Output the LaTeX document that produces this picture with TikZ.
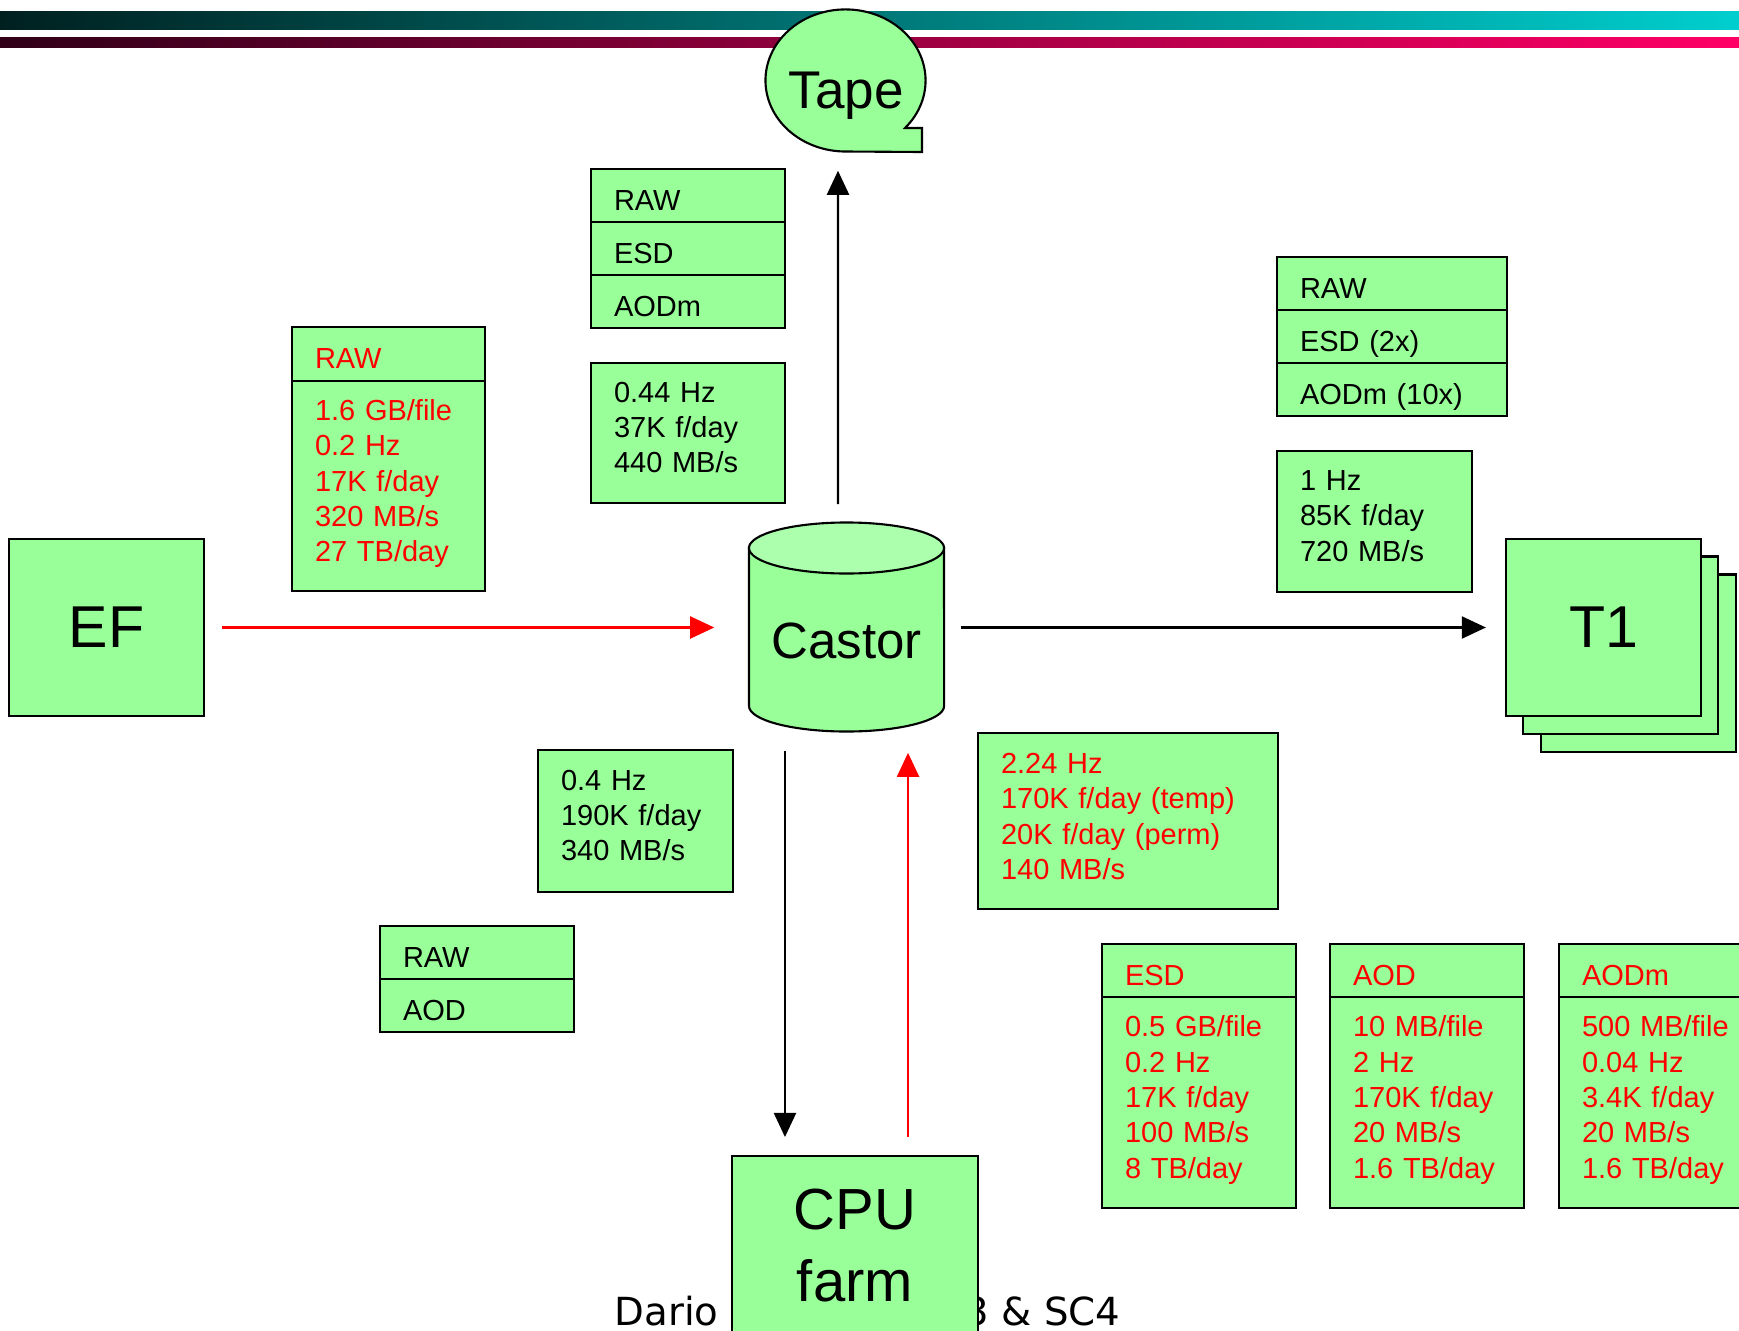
\documentclass[tikz,border=0pt]{standalone}
\usepackage{fontspec}
\setmainfont{Liberation Sans}
\newfontfamily\footfont{DejaVu Sans}
\usetikzlibrary{arrows.meta}

\definecolor{boxgreen}{RGB}{153,255,153}
\definecolor{cyltop}{RGB}{172,255,172}
\definecolor{tealdark}{RGB}{0,32,32}
\definecolor{teallight}{RGB}{0,206,206}
\definecolor{plumdark}{RGB}{48,0,24}
\definecolor{plumlight}{RGB}{255,0,102}

\newcommand{\smalltxt}{\fontsize{8.25}{10.05}\selectfont}
\newcommand{\bigtxt}{\fontsize{16.8}{20}\selectfont}
\newcommand{\bodyend}[1]{\par\kern#1}

\begin{document}
\begin{tikzpicture}[x=0.01cm, y=-0.01cm,
  box/.style={draw, fill=boxgreen, line width=0.6pt, outer sep=0pt, anchor=north west, inner xsep=0.23cm, inner ysep=0pt, align=left, font=\smalltxt},
  row/.style={box, minimum height=0.53cm, text height=0.29cm, text depth=0pt},
  body/.style={box, execute at end node={\bodyend{#1}}},
  big/.style={draw, fill=boxgreen, line width=0.6pt, minimum width=1.95cm, minimum height=1.77cm, font=\bigtxt},
  arr/.style={line width=0.6pt, -{Triangle[length=0.24cm,width=0.22cm]}}]
  \useasboundingbox (0,0) rectangle (1739,1330);

  % header bars
  \shade[left color=tealdark, right color=teallight] (0,11) rectangle (1739,29);
  \shade[left color=plumdark, right color=plumlight] (0,37) rectangle (1739,47);

  % tape
  \draw[fill=boxgreen, line width=0.6pt] (905,128) arc[start angle=-42, end angle=270, x radius=0.8cm, y radius=0.71cm] -- (922,152) -- (922,128) -- cycle;
  \node[minimum width=1.6cm, minimum height=1.42cm, text height=0.54cm, text depth=0pt, font=\fontsize{15.1}{18}\selectfont] (tape) at (846,81) {Tape};

  % what goes to tape
  \node[row, text width=1.48cm] (tpraw) at (591,169) {RAW};
  \node[row, text width=1.48cm] (tpesd) at (tpraw.south west) {ESD};
  \node[row, text width=1.48cm] (tpaodm) at (tpesd.south west) {AODm};
  \node[body=0.11cm, text width=1.48cm, minimum height=1.40cm] (tprate) at (591,363) {0.44 Hz\\37K f/day\\440 MB/s};

  % from EF
  \node[row, text width=1.47cm, text=red, minimum height=0.54cm] (efhead) at (292,327) {RAW};
  \node[body=0.05cm, text width=1.47cm, text=red, minimum height=2.10cm] (efbody) at (efhead.south west) {1.6 GB/file\\0.2 Hz\\17K f/day\\320 MB/s\\27 TB/day};
  \node[big] (ef) at (106.5,627.5) {EF};

  % castor
  \draw[fill=boxgreen, line width=0.6pt] (749,548) -- (749,706) arc[start angle=180, end angle=360, x radius=0.975cm, y radius=0.255cm] -- (944,548) -- cycle;
  \draw[fill=cyltop, line width=0.6pt] (846.5,548) ellipse[x radius=0.975cm, y radius=0.255cm];
  \node[minimum width=1.95cm, minimum height=2.09cm, text height=0.61cm, text depth=0pt, font=\fontsize{14.5}{17}\selectfont] (castor) at (846.5,627.5) {Castor};

  % to T1
  \node[row, text width=1.84cm] (t1raw) at (1277,257) {RAW};
  \node[row, text width=1.84cm] (t1esd) at (t1raw.south west) {ESD (2x)};
  \node[row, text width=1.84cm] (t1aodm) at (t1esd.south west) {AODm (10x)};
  \node[body=0.11cm, text width=1.49cm, minimum height=1.41cm] (t1rate) at (1277,451) {1 Hz\\85K f/day\\720 MB/s};
  \node[big] (t1c) at (1638.5,663) {};
  \node[big] (t1b) at (1620.5,645) {};
  \node[big] (t1) at (1603.5,627.5) {T1};

  % to and from the CPU farm
  \node[body=0.11cm, text width=1.49cm, minimum height=1.42cm] (cpurate) at (538,750) {0.4 Hz\\190K f/day\\340 MB/s};
  \node[row, text width=1.48cm] (cpuraw) at (380,926) {RAW};
  \node[row, text width=1.48cm] (cpuaod) at (cpuraw.south west) {AOD};
  \node[body=0.09cm, text width=2.54cm, text=red, minimum height=1.76cm] (recorate) at (978,733) {2.24 Hz\\170K f/day (temp)\\20K f/day (perm)\\140 MB/s};

  \node[row, text width=1.48cm, text=red] (esdhead) at (1102,944) {ESD};
  \node[body=0.05cm, text width=1.48cm, text=red, minimum height=2.11cm] (esdbody) at (esdhead.south west) {0.5 GB/file\\0.2 Hz\\17K f/day\\100 MB/s\\8 TB/day};
  \node[row, text width=1.48cm, text=red] (aodhead) at (1330,944) {AOD};
  \node[body=0.05cm, text width=1.48cm, text=red, minimum height=2.11cm] (aodbody) at (aodhead.south west) {10 MB/file\\2 Hz\\170K f/day\\20 MB/s\\1.6 TB/day};
  \node[row, text width=1.48cm, text=red] (aodmhead) at (1559,944) {AODm};
  \node[body=0.05cm, text width=1.48cm, text=red, minimum height=2.11cm] (aodmbody) at (aodmhead.south west) {500 MB/file\\0.04 Hz\\3.4K f/day\\20 MB/s\\1.6 TB/day};

  % footer, partly under the farm
  \node[anchor=base west, inner sep=0pt, font=\footfont\fontsize{11}{13}\selectfont] (footl) at (614,1325) {Dario};
  \node[anchor=base east, inner sep=0pt, font=\footfont\fontsize{11}{13}\selectfont] (footr) at (1121,1325) {3 \& SC4};

  \node[draw, fill=boxgreen, line width=0.6pt, anchor=north, minimum width=2.46cm, minimum height=1.78cm, align=center, font=\fontsize{16.5}{20.5}\selectfont] (cpu) at (855,1155) {CPU\\farm};

  % flows
  \draw[arr, red, shorten <=0.17cm, shorten >=0.34cm] (ef) -- (castor);
  \draw[arr, shorten <=0.16cm, shorten >=0.19cm] (castor) -- (t1);
  \draw[arr, shorten <=0.18cm, shorten >=0.18cm] ([xshift=-0.085cm]castor.north) -- ([xshift=-0.08cm]tape.south);
  \draw[arr, shorten <=0.18cm, shorten >=0.18cm] ([xshift=-0.615cm]castor.south) -- ([xshift=-0.615cm]castor.south |- cpu.north);
  \draw[arr, red, shorten <=0.18cm, shorten >=0.20cm] ([xshift=0.615cm]castor.south |- cpu.north) -- ([xshift=0.615cm]castor.south);
\end{tikzpicture}
\end{document}
